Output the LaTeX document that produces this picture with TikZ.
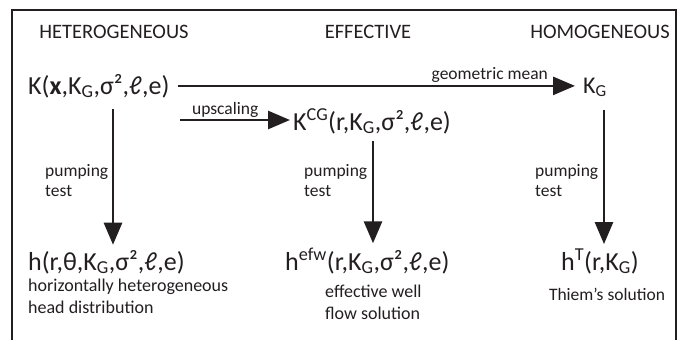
\documentclass[tikz,border=0pt]{standalone}
\usepackage{fontspec}
\setmainfont{Carlito}
\usetikzlibrary{arrows.meta,positioning}
\definecolor{ink}{HTML}{231F20}
\newcommand{\subs}[1]{\textsubscript{#1}}
\newcommand{\sups}[1]{\textsuperscript{#1}}

\begin{document}
\begin{tikzpicture}[x=1pt, y=-1pt, every node/.style={text=ink, inner sep=0pt},
  head/.style={font=\fontsize{20.5}{24}\selectfont, anchor=base},
  big/.style={font=\fontsize{26}{30}\selectfont, anchor=base west},
  lab/.style={font=\fontsize{17.5}{20}\selectfont, align=left},
  desc/.style={font=\fontsize{18}{22}\selectfont, align=left, anchor=north west},
  arr/.style={draw=ink, line width=2.7pt, -{Triangle[length=22pt,width=18pt]}}]
\useasboundingbox (0,0) rectangle (686,340);
\draw[ink, line width=1.4pt] (12,340) -- (12,10) -- (676,10) -- (676,340);
% column titles
\node[head] (het) at (114,38.5) {HETEROGENEOUS};
\node[head] (eff) at (368,38.5) {EFFECTIVE};
\node[head] (hom) at (600,38.5) {HOMOGENEOUS};
% conductivities
\node[big] (kh) at (28,94) {K(\textbf{x},K\subs{G},σ²,ℓ,e)};
\node[big, font=\fontsize{24}{28}\selectfont] (kg) at (583,93) {K\subs{G}};
\node[big] (kcg) at (293,130) {K\sups{CG}(r,K\subs{G},σ²,ℓ,e)};
% heads
\node[big] (hh) at (28,270) {h(r,θ,K\subs{G},σ²,ℓ,e)};
\node[big] (hefw) at (285,270) {h\sups{efw}(r,K\subs{G},σ²,ℓ,e)};
\node[big] (ht) at (561,270) {h\sups{T}(r,K\subs{G})};
\node[desc] (hd) at (28,279) {horizontally heterogeneous\\head distribution};
\node[desc] (ed) at (325,285) {effective well\\flow solution};
\node[lab, anchor=base] (ts) at (607,300) {Thiem's solution};
% arrows
\draw[arr, shorten >=8pt] ([xshift=8pt]kh.east) -- (kh.east -| kg.west)
  node[lab, pos=0.77, above=2pt] (gm) {geometric mean};
\coordinate (up) at (180,120);
\draw[arr, shorten >=3pt] (up) -- (up -| kcg.west)
  node[lab, pos=0.4, above=1pt] (us) {upscaling};
\foreach \a/\b/\x/\g/\e [count=\i] in {kh/hh/113/11/5, kcg/hefw/373/7/5, kg/ht/604/13/5} {
  \draw[arr, shorten <=\g pt, shorten >=\e pt] (\a.south -| \x,0) -- (\b.north -| \x,0);
}
\foreach \x [count=\i] in {45,304,535}
  \node[lab, anchor=west] (pt\i) at (\x,181) {pumping\\test};
\end{tikzpicture}
\end{document}
